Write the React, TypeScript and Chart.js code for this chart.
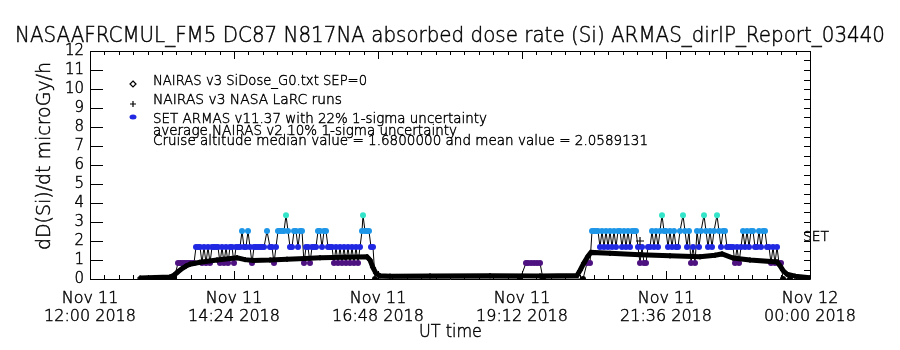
import React, { useEffect, useRef } from "react";
import { Chart, registerables } from "chart.js";
Chart.register(...registerables);

const titleText = "NASAAFRCMUL_FM5 DC87 N817NA absorbed dose rate (Si) ARMAS_dirIP_Report_03440";
const yAxisTitle = "dD(Si)/dt microGy/h";
const xAxisTitle = "UT time";
const setLabel = "SET";

// x values are minutes after Nov 11 12:00 UT
const xTickValues = [0, 144, 288, 432, 576, 720];
const xTickDates = ["Nov 11", "Nov 11", "Nov 11", "Nov 11", "Nov 11", "Nov 12"];
const xTickTimes = ["12:00 2018", "14:24 2018", "16:48 2018", "19:12 2018", "21:36 2018", "00:00 2018"];

const legendLines = [
  "NAIRAS v3 SiDose_G0.txt SEP=0",
  "NAIRAS v3 NASA LaRC runs",
  "SET ARMAS v11.37 with 22% 1-sigma uncertainty",
  "average NAIRAS v2 10% 1-sigma uncertainty",
  "Cruise altitude median value = 1.6800000 and mean value = 2.0589131",
];

// NAIRAS v3 SiDose_G0 model curve
const nairasMinutes = [
  50, 65, 80, 84, 88, 92, 96, 100, 110, 127,
  147, 155, 163, 180, 197, 215, 230, 255, 277, 280,
  283, 286, 290, 300, 340, 400, 450, 487, 490, 494,
  498, 501, 520, 550, 580, 610, 625, 632, 643, 660,
  687, 690, 693, 697, 705, 720,
];
const nairasValues = [
  0.05, 0.08, 0.1, 0.2, 0.38, 0.55, 0.68, 0.78, 0.88, 1.0,
  1.12, 1.02, 0.98, 1.0, 1.04, 1.08, 1.12, 1.15, 1.17, 1.0,
  0.6, 0.3, 0.17, 0.15, 0.16, 0.17, 0.16, 0.18, 0.45, 0.85,
  1.2, 1.4, 1.35, 1.28, 1.22, 1.17, 1.25, 1.32, 1.1, 1.0,
  0.9, 0.7, 0.45, 0.25, 0.15, 0.06,
];

// NAIRAS v3 NASA LaRC runs
const larcMinutes = [550];
const larcValues = [2.0];

// SET ARMAS measurements
const armasMinutes = [
  80, 84, 88, 90, 92, 94, 96, 98, 100, 102,
  104, 106, 108, 110, 112, 114, 116, 118, 120, 122,
  124, 126, 128, 130, 132, 134, 136, 138, 140, 142,
  144, 146, 148, 150, 152, 154, 156, 158, 160, 162,
  164, 166, 168, 170, 172, 174, 177, 180, 182, 184,
  186, 188, 190, 192, 194, 196, 198, 200, 202, 204,
  206, 208, 210, 212, 214, 216, 218, 220, 222, 224,
  226, 228, 230, 232, 234, 236, 238, 240, 242, 244,
  246, 248, 250, 252, 254, 256, 258, 260, 262, 264,
  266, 268, 270, 272, 273, 275, 277, 279, 281, 283, 285,
  430, 436, 438, 441, 444, 447, 450, 453,
  493, 497, 500, 502, 504, 506, 508, 510, 512, 514,
  516, 518, 520, 522, 524, 526, 528, 530, 532, 534,
  536, 538, 540, 542, 544, 546, 548, 550, 552, 554,
  556, 558, 560, 562, 564, 566, 568, 570, 572, 574,
  576, 578, 580, 582, 584, 586, 588, 590, 593, 595,
  597, 599, 601, 603, 605, 607, 609, 611, 614, 616,
  618, 620, 622, 624, 627, 629, 631, 633, 635, 637,
  639, 641, 643, 645, 647, 649, 651, 653, 655, 657,
  659, 661, 663, 665, 667, 669, 671, 673, 675, 677,
  679, 681, 683, 685, 687, 689, 691, 693, 700,
];
const armasValues = [
  0, 0, 0.84, 0.84, 0.84, 0.84, 0.84, 0.84, 0.84, 0.84,
  0.84, 1.68, 1.68, 1.68, 0.84, 1.68, 0.84, 1.68, 0.84, 1.68,
  1.68, 1.68, 1.68, 0.84, 1.68, 0.84, 1.68, 0.84, 1.68, 1.68,
  0.84, 1.68, 1.68, 1.68, 2.52, 1.68, 1.68, 2.52, 1.68, 0.84,
  1.68, 1.68, 1.68, 1.68, 1.68, 1.68, 2.52, 1.68, 1.68, 0.84,
  1.68, 2.52, 2.52, 2.52, 2.52, 3.36, 2.52, 1.68, 1.68, 2.52,
  2.52, 1.68, 2.52, 2.52, 0.84, 1.68, 1.68, 0.84, 1.68, 1.68,
  1.68, 2.52, 2.52, 1.68, 2.52, 2.52, 1.68, 1.68, 1.68, 0.84,
  1.68, 0.84, 1.68, 0.84, 1.68, 0.84, 1.68, 0.84, 1.68, 0.84,
  1.68, 0.84, 1.68, 2.52, 3.36, 2.52, 2.52, 2.52, 1.68, 1.68, 0,
  0, 0.84, 0.84, 0.84, 0.84, 0.84, 0.84, 0,
  0, 0.84, 0.84, 2.52, 2.52, 2.52, 2.52, 1.68, 2.52, 1.68,
  2.52, 1.68, 2.52, 1.68, 2.52, 1.68, 2.52, 2.52, 1.68, 2.52,
  1.68, 2.52, 1.68, 2.52, 2.52, 2.52, 1.68, 0.84, 1.68, 0.84,
  0.84, 1.68, 1.68, 2.52, 1.68, 2.52, 1.68, 2.52, 3.36, 2.52,
  2.52, 1.68, 2.52, 1.68, 2.52, 1.68, 1.68, 2.52, 3.36, 2.52,
  1.68, 2.52, 0.84, 1.68, 0.84, 2.52, 1.68, 2.52, 3.36, 2.52,
  1.68, 2.52, 1.68, 2.52, 3.36, 2.52, 1.68, 2.52, 2.52, 1.68,
  1.68, 1.68, 1.68, 0.84, 1.68, 0.84, 1.68, 2.52, 1.68, 2.52,
  1.68, 2.52, 2.52, 1.68, 1.68, 2.52, 1.68, 2.52, 2.52, 1.68,
  1.68, 0.84, 1.68, 0.84, 1.68, 0.84, 0.84, 0, 0,
];

const FONT = "'DejaVu Sans', 'Liberation Sans', sans-serif";
const WEIGHT = 200;
const STROKE = 0.45;

function armasColor(v: number): string {
  if (v <= 0) return "#000000";
  if (v < 1.2) return "rgb(78,18,128)";
  if (v < 2.1) return "rgb(32,40,226)";
  if (v < 2.9) return "rgb(30,150,232)";
  return "rgb(52,228,200)";
}

function fitText(ctx: CanvasRenderingContext2D, text: string, x: number, y: number, width: number, size: number) {
  ctx.save();
  ctx.font = `${WEIGHT} ${size}px ${FONT}`;
  const w = ctx.measureText(text).width;
  ctx.translate(x, y);
  ctx.scale(width / w, 1);
  ctx.textAlign = "left";
  ctx.textBaseline = "middle";
  ctx.fillStyle = "#000";
  ctx.strokeStyle = "#000";
  ctx.lineWidth = STROKE;
  ctx.fillText(text, 0, 0);
  ctx.strokeText(text, 0, 0);
  ctx.restore();
}

const framePlugin = {
  id: "idlFrame",
  afterDraw(chart: any) {
    const ctx: CanvasRenderingContext2D = chart.ctx;
    const { left, right, top, bottom } = chart.chartArea;
    const xs = chart.scales.x;
    const ys = chart.scales.y;
    ctx.save();
    ctx.strokeStyle = "#000";
    ctx.lineWidth = 1;
    ctx.beginPath();
    ctx.rect(Math.round(left) + 0.5, Math.round(top) + 0.5, Math.round(right - left), Math.round(bottom - top));
    ctx.stroke();
    // x ticks (minor every 14.4 min, major every 144 min)
    ctx.beginPath();
    for (let k = 0; k <= 50; k++) {
      const m = k * 14.4;
      const px = Math.round(xs.getPixelForValue(m)) + 0.5;
      const major = k % 10 === 0;
      const len = major ? 8 : 4;
      ctx.moveTo(px, bottom);
      ctx.lineTo(px, bottom - len);
      ctx.moveTo(px, top);
      ctx.lineTo(px, top + len);
    }
    // left y ticks at integers
    for (let v = 0; v <= 12; v++) {
      const py = Math.round(ys.getPixelForValue(v)) + 0.5;
      ctx.moveTo(left, py);
      ctx.lineTo(left + 13, py);
    }
    // right y ticks at halves
    for (let k = 0; k <= 24; k++) {
      const py = Math.round(ys.getPixelForValue(k * 0.5)) + 0.5;
      ctx.moveTo(right, py);
      ctx.lineTo(right - 6, py);
    }
    ctx.stroke();

    // Title
    fitText(ctx, titleText, 15, 37, 870, 21);
    // y axis title
    ctx.save();
    ctx.translate(45, 156);
    ctx.rotate(-Math.PI / 2);
    fitText(ctx, yAxisTitle, -94, 0, 188, 19);
    ctx.restore();
    // x axis title
    fitText(ctx, xAxisTitle, 419, 332, 63, 18);

    // Legend
    const lx = 153;
    const ly = [81, 100, 119, 131, 141];
    const lw = [214, 189, 334, 304, 495];
    legendLines.forEach((t, i) => fitText(ctx, t, lx, ly[i], lw[i], 14));
    // legend symbols
    ctx.strokeStyle = "#000";
    ctx.lineWidth = 1.2;
    ctx.beginPath();
    ctx.moveTo(133, 81);
    ctx.lineTo(136, 84);
    ctx.lineTo(133, 87);
    ctx.lineTo(130, 84);
    ctx.closePath();
    ctx.stroke();
    ctx.beginPath();
    ctx.moveTo(133, 101);
    ctx.lineTo(133, 107);
    ctx.moveTo(130, 104);
    ctx.lineTo(136, 104);
    ctx.stroke();
    ctx.fillStyle = armasColor(1.68);
    ctx.beginPath();
    ctx.ellipse(133, 117, 3.5, 2.5, 0, 0, Math.PI * 2);
    ctx.fill();

    // SET label
    fitText(ctx, setLabel, 803, 237, 26, 14);
    ctx.restore();
  },
};

export default function App() {
  const ref = useRef<HTMLCanvasElement>(null);
  useEffect(() => {
    document.body.style.margin = "0";
    const canvas = ref.current as HTMLCanvasElement;
    const armasColors = armasValues.map(armasColor);
    const chart = new Chart(canvas, {
      type: "line",
      data: {
        datasets: [
          {
            label: legendLines[0],
            data: nairasMinutes.map((m, i) => ({ x: m, y: nairasValues[i] })),
            borderColor: "#000",
            borderWidth: 5,
            pointStyle: "rectRot",
            pointRadius: 2.5,
            pointBorderColor: "#000",
            pointBackgroundColor: "#000",
            pointBorderWidth: 1,
            tension: 0,
          },
          {
            label: legendLines[1],
            data: larcMinutes.map((m, i) => ({ x: m, y: larcValues[i] })),
            showLine: false,
            pointStyle: "cross",
            pointRadius: 4,
            borderColor: "#000",
            pointBorderColor: "#000",
            pointBorderWidth: 1.2,
          },
          {
            label: legendLines[2],
            data: armasMinutes.map((m, i) => ({ x: m, y: armasValues[i] })),
            borderColor: "#000",
            borderWidth: 1,
            pointRadius: 3,
            pointBackgroundColor: armasColors,
            pointBorderColor: armasColors,
            pointBorderWidth: 0,
            tension: 0,
          },
        ],
      } as any,
      options: {
        animation: false,
        responsive: false,
        devicePixelRatio: 1,
        layout: { padding: { top: 51, left: 0, right: 90, bottom: 0 } },
        plugins: {
          legend: { display: false },
          title: { display: false },
          tooltip: { enabled: false },
        },
        scales: {
          x: {
            type: "linear",
            min: 0,
            max: 720,
            grid: { display: false, drawTicks: false },
            border: { display: false },
            ticks: {
              stepSize: 144,
              autoSkip: false,
              maxRotation: 0,
              padding: 11,
              color: "#000",
              textStrokeColor: "#000",
              textStrokeWidth: STROKE,
              font: { family: FONT, size: 16, weight: WEIGHT, lineHeight: 1.12 },
              callback: (v: any) => {
                const i = xTickValues.indexOf(Number(v));
                return i >= 0 ? [xTickDates[i], xTickTimes[i]] : "";
              },
            },
            afterFit: (s: any) => {
              s.height = 71;
            },
          },
          y: {
            min: 0,
            max: 12,
            grid: { display: false, drawTicks: false },
            border: { display: false },
            ticks: {
              stepSize: 1,
              autoSkip: false,
              padding: 6,
              color: "#000",
              textStrokeColor: "#000",
              textStrokeWidth: STROKE,
              font: { family: FONT, size: 15, weight: WEIGHT },
            },
            afterFit: (s: any) => {
              s.width = 90;
            },
          },
        },
      } as any,
      plugins: [framePlugin],
    });
    return () => chart.destroy();
  }, []);
  return <canvas ref={ref} width={900} height={350} style={{ display: "block" }} />;
}
